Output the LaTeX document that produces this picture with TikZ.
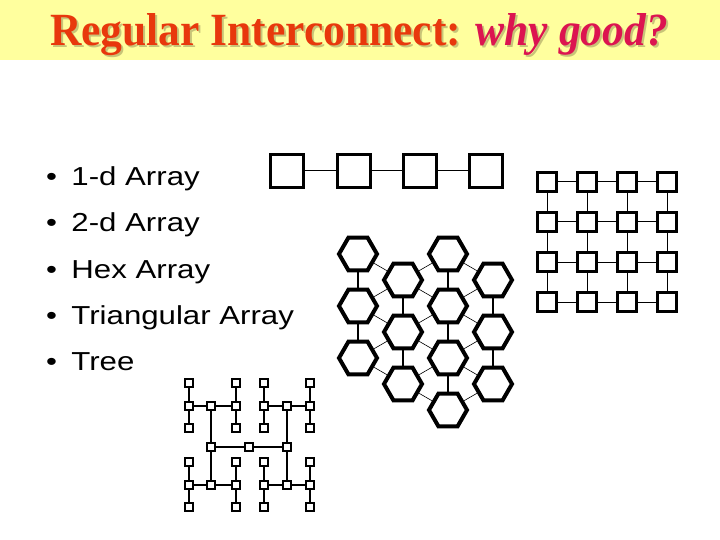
\documentclass[tikz,border=0pt]{standalone}
\usepackage{fontspec}
\setmainfont{Liberation Serif}
\setsansfont{Liberation Sans}
\usetikzlibrary{shapes.geometric}
\definecolor{titlered}{RGB}{232,56,12}
\definecolor{titlepink}{RGB}{220,20,80}
\definecolor{bandyellow}{RGB}{255,255,158}
\definecolor{shadowtone}{RGB}{200,196,120}
\tikzstyle{cell} = [rectangle, draw, line width=3pt, minimum size=33pt, inner sep=0pt]
\tikzstyle{smallcell} = [cell, minimum size=19pt]
\tikzstyle{hexcell} = [regular polygon, regular polygon sides=6, draw, line width=4pt, minimum size=38pt, inner sep=0pt]
\tikzstyle{leaf} = [rectangle, draw, line width=2.8pt, minimum size=8pt, inner sep=0pt]
\tikzstyle{wire} = [line width=1pt]
\tikzstyle{hexwire} = [line width=2pt]
\tikzstyle{diagwire} = [line width=0.6pt]
\tikzstyle{treewire} = [line width=2pt]
\tikzstyle{item} = [font=\sffamily\fontsize{26}{30}\selectfont, anchor=base west, inner sep=0pt, xscale=1.2]
\tikzstyle{heading} = [font=\bfseries\fontsize{43.5}{50}\selectfont, anchor=base, inner sep=0pt, yscale=1.06]

\begin{document}
\begin{tikzpicture}[x=1pt, y=-1pt]
\useasboundingbox (0,0) rectangle (720,540);
\fill[bandyellow] (0,0) rectangle (720,60);
% title
\node[heading, text=shadowtone] (titleshadow) at (361,48) {Regular Interconnect: \textit{why good?}};
\node[heading, text=titlered] (title) at (359,46) {Regular Interconnect: \textcolor{titlepink}{\textit{why good?}}};
% list
\node[item] (i1) at (46,186) {\makebox[21pt][l]{•}1-d Array};
\node[item] (i2) at (46,232) {\makebox[21pt][l]{•}2-d Array};
\node[item] (i3) at (46,278) {\makebox[21pt][l]{•}Hex Array};
\node[item] (i4) at (46,324) {\makebox[21pt][l]{•}Triangular Array};
\node[item] (i5) at (46,370) {\makebox[21pt][l]{•}Tree};
% 1-d array
\node[cell] (p1) at (287,171) {};
\node[cell] (p2) at (354,171) {};
\node[cell] (p3) at (420,171) {};
\node[cell] (p4) at (486,171) {};
\draw[wire] (p1) -- (p2);
\draw[wire] (p2) -- (p3);
\draw[wire] (p3) -- (p4);
% 2-d array
\foreach \i in {1,...,4}
  \foreach \j in {1,...,4}
    \node[smallcell] (g\i\j) at ({507+40*\i},{142+40*\j}) {};
\foreach \i/\k in {1/2,2/3,3/4}
  \foreach \j in {1,...,4} {
    \draw[wire] (g\i\j) -- (g\k\j);
    \draw[wire] (g\j\i) -- (g\j\k);
  }
% hex array
\foreach \c/\x/\y/\n in {1/358/254/3, 2/403/280/3, 3/448/254/4, 4/493/280/3}
  \foreach \r in {1,...,\n}
    \node[hexcell] (h\c\r) at (\x,{\y+52*(\r-1)}) {};
\foreach \a/\b in {h11/h12, h12/h13, h21/h22, h22/h23, h31/h32, h32/h33, h33/h34, h41/h42, h42/h43}
  \draw[hexwire] (\a) -- (\b);
\foreach \a/\b in {h11/h21, h12/h21, h12/h22, h13/h22, h13/h23, h21/h31, h21/h32, h22/h32, h22/h33, h23/h33, h23/h34, h31/h41, h32/h41, h32/h42, h33/h42, h33/h43, h34/h43}
  \draw[diagwire] (\a) -- (\b);
% tree
\foreach \q/\xl/\xm/\xr/\y in {a/189/211/236/406, b/264/287/310/406, c/189/211/236/485, d/264/287/310/485} {
  \node[leaf] (\q-m) at (\xm,\y) {};
  \node[leaf] (\q-l) at (\xl,\y) {};
  \node[leaf] (\q-r) at (\xr,\y) {};
  \node[leaf] (\q-lu) at (\xl,{\y-23}) {};
  \node[leaf] (\q-ld) at (\xl,{\y+22}) {};
  \node[leaf] (\q-ru) at (\xr,{\y-23}) {};
  \node[leaf] (\q-rd) at (\xr,{\y+22}) {};
  \draw[treewire] (\q-l) -- (\q-m);
  \draw[treewire] (\q-m) -- (\q-r);
  \draw[treewire] (\q-lu) -- (\q-l);
  \draw[treewire] (\q-l) -- (\q-ld);
  \draw[treewire] (\q-ru) -- (\q-r);
  \draw[treewire] (\q-r) -- (\q-rd);
}
\node[leaf] (left) at (211,447) {};
\node[leaf] (root) at (249,447) {};
\node[leaf] (right) at (287,447) {};
\draw[treewire] (a-m) -- (left);
\draw[treewire] (left) -- (c-m);
\draw[treewire] (b-m) -- (right);
\draw[treewire] (right) -- (d-m);
\draw[treewire] (left) -- (root);
\draw[treewire] (root) -- (right);
\end{tikzpicture}
\end{document}
